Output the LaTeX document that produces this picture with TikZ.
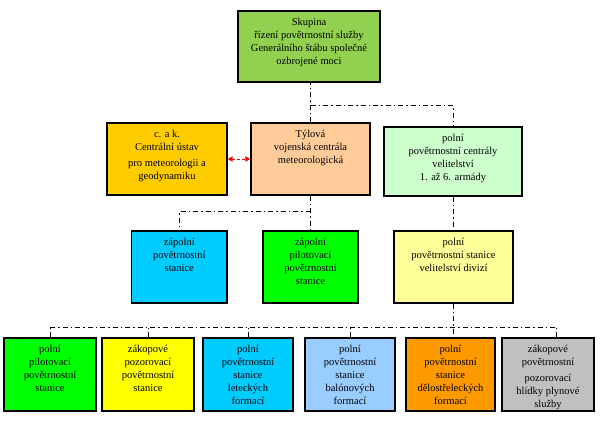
\documentclass[tikz,border=0pt]{standalone}
\usepackage{fontspec}
\setmainfont{Liberation Serif}
\usetikzlibrary{arrows.meta}

\definecolor{skupinagreen}{HTML}{92D050}
\definecolor{ustavgold}{HTML}{FFCC00}
\definecolor{tylovapeach}{HTML}{FFCC99}
\definecolor{armadymint}{HTML}{CCFFCC}
\definecolor{stanicecyan}{HTML}{00CCFF}
\definecolor{pilotgreen}{HTML}{00FF00}
\definecolor{divizeyellow}{HTML}{FFFF99}
\definecolor{zakopyellow}{HTML}{FFFF00}
\definecolor{balonblue}{HTML}{99CCFF}
\definecolor{delostorange}{HTML}{FF9900}
\definecolor{plyngray}{HTML}{C0C0C0}

\tikzset{
  orgbox/.style={draw, line width=1.2pt, inner sep=0pt},
  txt/.style={anchor=north, align=center, inner sep=0pt, yshift=-7.5pt,
    font=\fontsize{10.5}{13}\selectfont},
  link/.style={line width=0.9pt, dash pattern=on 5pt off 3pt on 1.5pt off 3pt},
  redlink/.style={color=red, line width=0.9pt, dash pattern=on 3pt off 2pt,
    {Triangle[length=5pt,width=5pt]}-{Triangle[length=5pt,width=5pt]}},
}

\begin{document}
\begin{tikzpicture}[x=1pt,y=1pt,yscale=-1]
\useasboundingbox (0,0) rectangle (600,424);

%Shape: Rectangle [top]
\node[orgbox, fill=skupinagreen, minimum width=142, minimum height=71,
  label={[txt]north:{Skupina\\řízení povětrnostní služby\\Generálního štábu společné\\ozbrojené moci}}] (skupina) at (309,46.5) {};

%Shape: Rectangle [second row]
\node[orgbox, fill=ustavgold, minimum width=120, minimum height=72,
  label={[txt]north:{c. a k.\\Centrální ústav\\[3pt]pro meteorologii a\\geodynamiku}}] (ustav) at (167,159) {};
\node[orgbox, fill=tylovapeach, minimum width=119, minimum height=72,
  label={[txt]north:{Týlová\\vojenská centrála\\meteorologická}}] (tylova) at (310.5,159) {};
\node[orgbox, fill=armadymint, minimum width=138, minimum height=69,
  label={[txt]north:{polní\\povětrnostní centrály\\velitelství\\1. až 6. armády}}] (armady) at (453,161.5) {};

%Shape: Rectangle [third row]
\node[orgbox, fill=stanicecyan, minimum width=95.5, minimum height=72,
  label={[txt]north:{zápolní\\povětrnostní\\stanice}}] (zapolni) at (179.25,267) {};
\node[orgbox, fill=pilotgreen, minimum width=95, minimum height=72,
  label={[txt]north:{zápolní\\pilotovací\\povětrnostní\\stanice}}] (pilot) at (310.5,267) {};
\node[orgbox, fill=divizeyellow, minimum width=119, minimum height=72,
  label={[txt]north:{polní\\povětrnostní stanice\\velitelství divizí}}] (divize) at (453.5,267) {};

%Shape: Rectangle [bottom row]
\node[orgbox, fill=pilotgreen, minimum width=92, minimum height=73,
  label={[txt]north:{polní\\pilotovací\\povětrnostní\\stanice}}] (g1) at (50,374.5) {};
\node[orgbox, fill=zakopyellow, minimum width=92, minimum height=73,
  label={[txt]north:{zákopové\\pozorovací\\povětrnostní\\stanice}}] (g2) at (148,374.5) {};
\node[orgbox, fill=stanicecyan, minimum width=90, minimum height=73,
  label={[txt]north:{polní\\povětrnostní\\stanice\\leteckých\\formací}}] (g3) at (248,374.5) {};
\node[orgbox, fill=balonblue, minimum width=90, minimum height=73,
  label={[txt]north:{polní\\povětrnostní\\stanice\\balónových\\formací}}] (g4) at (350,374.5) {};
\node[orgbox, fill=delostorange, minimum width=89, minimum height=73,
  label={[txt]north:{polní\\povětrnostní\\stanice\\dělostřeleckých\\formací}}] (g5) at (450.5,374.5) {};
\node[orgbox, fill=plyngray, minimum width=92, minimum height=73,
  label={[txt]north:{zákopové\\povětrnostní\\[3pt]pozorovací\\hlídky plynové\\služby}}] (g6) at (548,374.5) {};

%Straight Lines [connectors]
\draw[link] (tylova.north) -- (tylova.north |- skupina.south);
\draw[link] (tylova.north) ++(0,-17) -| (armady.north);
\draw[link] (tylova.south) -- (pilot.north);
\draw[link] (tylova.south) ++(0,16) -| (zapolni.north);
\draw[link] (armady.south) -- (armady.south |- divize.north);
\draw[link] (divize.south) -- (divize.south |- g5.north);
\path (divize.south) ++(0,24) coordinate (bus);
\draw[link] (g1.north |- bus) -- ([xshift=8]g6.north |- bus);
\foreach \g in {g1,g2,g3,g4} \draw[link] (\g.north) -- (\g.north |- bus);
\draw[link] ([xshift=8]g6.north) -- ([xshift=8]g6.north |- bus);

%Arrow [red]
\draw[redlink] (ustav.east) -- (tylova.west);

\end{tikzpicture}
\end{document}
